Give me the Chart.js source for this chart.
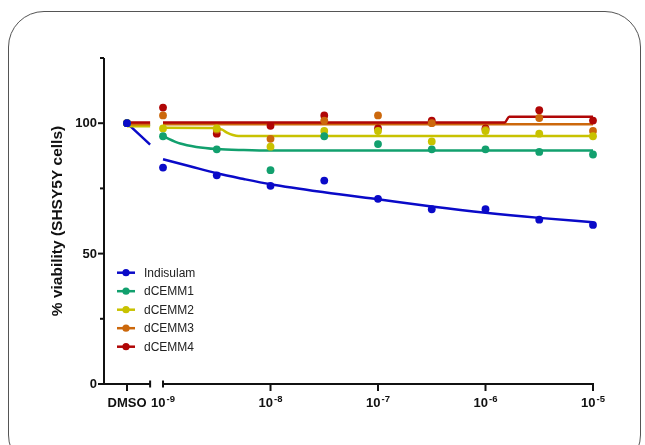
<!DOCTYPE html>
<html>
<head>
<meta charset="utf-8">
<script src="https://cdn.jsdelivr.net/npm/chart.js@4.4.0/dist/chart.umd.min.js"></script>
<style>
  html, body { margin: 0; padding: 0; background: #fff; }
  #wrap { position: relative; width: 645px; height: 445px; overflow: hidden; }
  #frame { position: absolute; left: 8px; top: 11px; width: 633px; height: 460px;
           border: 1px solid #555; border-radius: 36px; box-sizing: border-box; }
  canvas { position: absolute; left: 0; top: 0; }
</style>
</head>
<body>
<div id="wrap">
  <div id="frame"></div>
  <canvas id="chart" width="645" height="445"></canvas>
</div>
<script>
// dose positions on a log10 axis, DMSO sits left of the axis break
const doseLog = [-9.335, -9, -8.5, -8, -7.5, -7, -6.5, -6, -5.5, -5];
const seriesNames = ['Indisulam', 'dCEMM1', 'dCEMM2', 'dCEMM3', 'dCEMM4'];

const indisulam = [100, 83, 80, 76, 78, 71, 67, 67, 63, 61];
const dcemm1    = [100, 95, 90, 82, 95, 92, 90, 90, 89, 88];
const dcemm2    = [100, 98, 98, 91, 97, 97, 93, 97, 96, 95];
const dcemm3    = [100, 103, 97.5, 94, 101, 103, 100, 97.5, 102, 97];
const dcemm4    = [100, 106, 96, 99, 103, 98, 101, 98, 105, 101];

// fitted curves (null = gap at the axis break)
const indisulamFitX = [-9.335, -9.12, -9.06, -9, -8.75, -8.5, -8.25, -8, -7.5, -7, -6.5, -6, -5.5, -5];
const indisulamFitY = [100, 91.8, null, 86.2, 83.5, 80.8, 78.6, 76.6, 73.5, 70.8, 68.1, 65.7, 63.7, 62];
const dcemm1FitX = [-9.335, -9.12, -9.06, -9, -8.84, -8.69, -8.5, -8.25, -8, -5];
const dcemm1FitY = [99.3, 99.3, null, 95, 92.2, 90.9, 90.1, 89.7, 89.5, 89.5];
const dcemm2FitX = [-9.335, -9.12, -9.06, -9, -8.5, -8.45, -8.4, -8.35, -8.3, -5];
const dcemm2FitY = [98.8, 98.8, null, 98.3, 98.2, 97.5, 96.3, 95.5, 95.1, 95.1];
const dcemm3FitX = [-9.335, -9.12, -9.06, -9, -5];
const dcemm3FitY = [99.6, 99.6, null, 99.6, 99.6];
const dcemm4FitX = [-9.335, -9.12, -9.06, -9, -5.82, -5.78, -5];
const dcemm4FitY = [100.3, 100.3, null, 100.3, 100.3, 102.5, 102.5];

const xTickPos = [-9.335, -9, -8, -7, -6, -5];
const xTickLabels = ['DMSO', '10^-9', '10^-8', '10^-7', '10^-6', '10^-5'];
const xBreak = [-9.12, -9];
const yTicks = [0, 25, 50, 75, 100, 125];
const yTickLabels = ['0', '', '50', '', '100', ''];

const colors = ['#0a0ac8', '#12a06e', '#c8c200', '#cc680c', '#b00606'];

const values = [indisulam, dcemm1, dcemm2, dcemm3, dcemm4];
const fits = [
  [indisulamFitX, indisulamFitY], [dcemm1FitX, dcemm1FitY], [dcemm2FitX, dcemm2FitY],
  [dcemm3FitX, dcemm3FitY], [dcemm4FitX, dcemm4FitY]
];

const datasets = [];
values.forEach(function(vals, i) {
  datasets.push({
    label: seriesNames[i],
    data: vals.map(function(v, k) { return {x: doseLog[k], y: v}; }),
    showLine: false,
    pointRadius: 3.9,
    pointBackgroundColor: colors[i],
    pointBorderWidth: 0,
    order: 1 + i,
    clip: false
  });
});
// curve order: dCEMM4 line on top of dCEMM3 line
const curveOrder = [10, 9, 8, 7, 6];
fits.forEach(function(f, i) {
  datasets.push({
    label: seriesNames[i] + ' fit',
    data: f[0].map(function(x, k) { return {x: x, y: f[1][k]}; }),
    showLine: true,
    spanGaps: false,
    pointRadius: 0,
    borderColor: colors[i],
    borderWidth: 2.5,
    tension: 0.4,
    cubicInterpolationMode: 'monotone',
    order: curveOrder[i],
    clip: false
  });
});

const ink = '#111';

const axesPlugin = {
  id: 'brokenAxes',
  beforeDatasetsDraw(chart) {
    const ctx = chart.ctx;
    const x = chart.scales.x, y = chart.scales.y;
    const left = chart.chartArea.left;
    const y0 = y.getPixelForValue(0);
    ctx.save();
    ctx.strokeStyle = ink;
    ctx.fillStyle = ink;
    ctx.lineWidth = 2;
    // y axis
    ctx.beginPath();
    ctx.moveTo(left, y.getPixelForValue(125));
    ctx.lineTo(left, y0 + 1);
    ctx.stroke();
    ctx.font = 'bold 13px "Liberation Sans", Arial, sans-serif';
    ctx.textAlign = 'right';
    ctx.textBaseline = 'middle';
    yTicks.forEach(function(t, i) {
      const py = y.getPixelForValue(t);
      const len = yTickLabels[i] ? 6 : 4;
      ctx.beginPath();
      ctx.moveTo(left - len, py);
      ctx.lineTo(left, py);
      ctx.stroke();
      if (yTickLabels[i]) ctx.fillText(yTickLabels[i], left - 7, py + 0.5);
    });
    // x axis with break
    const b0 = x.getPixelForValue(xBreak[0]);
    const b1 = x.getPixelForValue(xBreak[1]);
    const xr = x.getPixelForValue(-5);
    ctx.beginPath();
    ctx.moveTo(left - 1, y0); ctx.lineTo(b0, y0);
    ctx.moveTo(b1, y0); ctx.lineTo(xr + 1, y0);
    ctx.moveTo(b0, y0 - 3.5); ctx.lineTo(b0, y0 + 3.5);
    ctx.moveTo(b1, y0 - 3.5); ctx.lineTo(b1, y0 + 3.5);
    ctx.stroke();
    xTickPos.forEach(function(t) {
      if (t === xBreak[1]) return;
      const px = x.getPixelForValue(t);
      ctx.beginPath();
      ctx.moveTo(px, y0);
      ctx.lineTo(px, y0 + 7);
      ctx.stroke();
    });
    // x labels
    const base = y0 + 23;
    ctx.textBaseline = 'alphabetic';
    ctx.textAlign = 'left';
    xTickLabels.forEach(function(lab, i) {
      const px = x.getPixelForValue(xTickPos[i]);
      const parts = lab.split('^');
      ctx.font = 'bold 13px "Liberation Sans", Arial, sans-serif';
      const wb = ctx.measureText(parts[0]).width;
      let we = 0;
      if (parts[1]) {
        ctx.font = 'bold 9.5px "Liberation Sans", Arial, sans-serif';
        we = ctx.measureText(parts[1]).width + 1;
      }
      const start = px - (wb + we) / 2;
      ctx.font = 'bold 13px "Liberation Sans", Arial, sans-serif';
      ctx.fillText(parts[0], start, base);
      if (parts[1]) {
        ctx.font = 'bold 9.5px "Liberation Sans", Arial, sans-serif';
        ctx.fillText(parts[1], start + wb + 1, base - 4.6);
      }
    });
    // y title
    ctx.translate(58, (y.getPixelForValue(125) + y0) / 2);
    ctx.rotate(-Math.PI / 2);
    ctx.textAlign = 'center';
    ctx.textBaseline = 'middle';
    ctx.font = 'bold 15.5px "Liberation Sans", Arial, sans-serif';
    ctx.fillText('% viability (SHSY5Y cells)', 0, 0);
    ctx.restore();
  },
  afterDraw(chart) {
    const ctx = chart.ctx;
    const left = chart.chartArea.left;
    ctx.save();
    ctx.font = '12px "Liberation Sans", Arial, sans-serif';
    ctx.textAlign = 'left';
    ctx.textBaseline = 'middle';
    seriesNames.forEach(function(name, i) {
      const ry = 272.7 + i * 18.5;
      ctx.strokeStyle = colors[i];
      ctx.fillStyle = colors[i];
      ctx.lineWidth = 2.5;
      ctx.beginPath();
      ctx.moveTo(left + 13, ry);
      ctx.lineTo(left + 31, ry);
      ctx.stroke();
      ctx.beginPath();
      ctx.arc(left + 22, ry, 3.6, 0, Math.PI * 2);
      ctx.fill();
      ctx.fillStyle = '#222';
      ctx.fillText(name, left + 40, ry + 0.5);
    });
    ctx.restore();
  }
};

new Chart(document.getElementById('chart'), {
  type: 'scatter',
  data: { datasets: datasets },
  options: {
    responsive: false,
    animation: false,
    events: [],
    layout: { padding: { left: 104, right: 52, top: 58, bottom: 61 } },
    scales: {
      x: { type: 'linear', min: -9.549, max: -5, display: false },
      y: { type: 'linear', min: 0, max: 125, display: false }
    },
    plugins: { legend: { display: false }, tooltip: { enabled: false } }
  },
  plugins: [axesPlugin]
});
</script>
</body>
</html>
